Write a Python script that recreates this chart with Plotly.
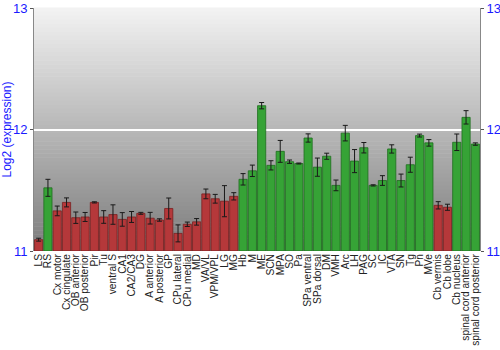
import plotly.graph_objects as go

categories = ["LS", "RS", "Cx motor", "Cx cingulate", "OB anterior", "OB posterior", "Pir", "Tu",
              "ventral S", "CA1", "CA2/CA3", "DG", "A anterior", "A posterior", "GP", "CPu lateral",
              "CPu medial", "MD", "VA/VL", "VPM/VPL", "LG", "MG", "Hb", "M", "ME", "SCN", "MPA", "SO",
              "Pa", "SPa ventral", "SPa dorsal", "DM", "VMH", "Arc", "LH", "PAG", "SC", "IC", "VTA",
              "SN", "Tg", "Pn", "MVe", "Cb vermis", "Cb lobe", "Cb nucleus", "spinal cord anterior",
              "spinal cord posterior"]
values = [11.093, 11.52, 11.33, 11.40, 11.274, 11.28, 11.40, 11.28,
          11.30, 11.26, 11.28, 11.31, 11.27, 11.255, 11.35, 11.145,
          11.22, 11.24, 11.47, 11.43, 11.41, 11.45, 11.59, 11.66, 12.196, 11.705, 11.82, 11.735,
          11.72, 11.93, 11.69, 11.78, 11.54, 11.97, 11.74, 11.85, 11.54, 11.58, 11.84,
          11.58, 11.71, 11.95, 11.89, 11.376, 11.36, 11.895, 12.10, 11.88]
errors = [0.012, 0.07, 0.04, 0.037, 0.047, 0.037, 0.005, 0.052,
          0.08, 0.056, 0.045, 0.008, 0.048, 0.01, 0.086, 0.07,
          0.018, 0.027, 0.04, 0.036, 0.128, 0.03, 0.047, 0.047, 0.026, 0.038, 0.09, 0.014,
          0.004, 0.034, 0.075, 0.025, 0.044, 0.064, 0.095, 0.043, 0.005, 0.04, 0.034,
          0.053, 0.062, 0.012, 0.027, 0.03, 0.025, 0.068, 0.055, 0.01]
groups = ["low", "high"] + ["low"] * 20 + ["high"] * 21 + ["low", "low"] + ["high"] * 3

colors = {"low": "#b5383a", "high": "#36a336"}
edges = {"low": "#7a2020", "high": "#1e6e1e"}

fig = go.Figure()
fig.add_trace(go.Bar(
    x=categories, y=[v - 11 for v in values], base=11,
    marker=dict(color=[colors[g] for g in groups],
                line=dict(color=[edges[g] for g in groups], width=0.8)),
    error_y=dict(type="data", array=errors, color="#1a1a1a", thickness=1, width=2.5),
    showlegend=False, hoverinfo="x+y",
))
fig.add_trace(go.Scatter(x=[categories[0]], y=[11], yaxis="y2", mode="markers",
                         marker=dict(opacity=0), showlegend=False, hoverinfo="skip"))

# gradient background
n = 60
top = (242, 242, 242)
bot = (125, 125, 125)
shapes = []
for i in range(n):
    t = i / (n - 1)
    c = tuple(int(round(top[k] + (bot[k] - top[k]) * t)) for k in range(3))
    shapes.append(dict(type="rect", xref="x domain", yref="y domain",
                       x0=0, x1=1, y0=1 - (i + 1) / n, y1=1 - i / n + 0.002,
                       fillcolor="rgb(%d,%d,%d)" % c, line=dict(width=0), layer="below"))

blue = "#1a1aff"
fig.update_layout(
    width=500, height=350,
    margin=dict(l=34, r=20, t=8, b=99),
    paper_bgcolor="white", plot_bgcolor="rgba(0,0,0,0)",
    bargap=0.12,
    shapes=shapes,
    font=dict(family="Liberation Sans, Arial, sans-serif"),
    xaxis=dict(tickangle=-90, tickfont=dict(size=10.2, color="#222"), showgrid=False,
               tickmode="array", tickvals=categories, ticktext=categories,
               automargin=False,
               showline=False, ticks="", range=[-0.5, len(categories) - 0.5]),
    yaxis=dict(range=[11, 13], tickvals=[11, 12, 13], tickfont=dict(size=13, color=blue),
               title=dict(text="Log2 (expression)", font=dict(size=12, color=blue), standoff=4),
               automargin=False,
               showgrid=True, gridcolor="white", gridwidth=1.5, zeroline=False,
               showline=True, linecolor="#888", linewidth=1, ticks="outside", ticklen=3,
               tickcolor="#555"),
    yaxis2=dict(range=[11, 13], tickvals=[11, 12, 13], tickfont=dict(size=13, color=blue),
                overlaying="y", side="right", showgrid=False, zeroline=False, automargin=False,
                showline=True, linecolor="#888", linewidth=1, ticks="outside", ticklen=3,
                tickcolor="#555", ticklabelstandoff=0),
)
fig.write_html("out.html")
